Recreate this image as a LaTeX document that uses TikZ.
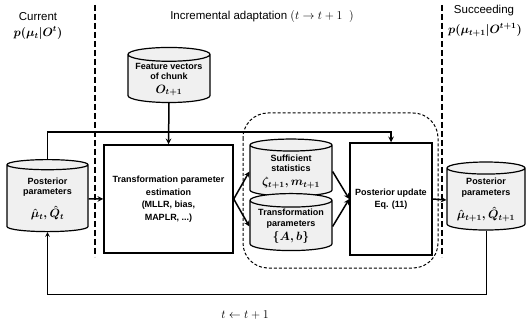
\documentclass[tikz,border=0pt]{standalone}
\usepackage{amsmath}
\usepackage{fontspec}
\setmainfont{Liberation Sans}
\usepackage{tikz}
\usetikzlibrary{arrows.meta, positioning, calc, shapes.geometric}

\begin{document}
\begin{tikzpicture}[x=1pt,y=-1pt]
  \useasboundingbox (0,0) rectangle (528,326);
  \tikzset{Drum/.style={cylinder,shape border rotate=90,aspect=0.2,draw,line width=1.2pt,
      fill=gray!12,align=center,inner sep=1pt,
      font=\bfseries\fontsize{9}{10.5}\selectfont},
    Box/.style={draw,line width=1.5pt,align=center,inner sep=2pt,
      font=\bfseries\fontsize{9}{12.5}\selectfont},
    Flow/.style={->,>=stealth,line width=1.5pt},
    Sep/.style={line width=1.6pt,dash pattern=on 6pt off 3pt},
    Title/.style={font=\fontsize{11.5}{13}\selectfont}}

  % headings
  \node[Title] (cur) at (38,17) {Current};
  \node (pcur) at (38,33) {\large$\boldsymbol{p(\mu_t|O^t)}$};
  \node[Title] (inc) at (262,17) {Incremental adaptation $(t \rightarrow t+1\;\;)$};
  \node[Title] (suc) at (484,11) {Succeeding};
  \node (psuc) at (485,30) {\large$\boldsymbol{p(\mu_{t+1}|O^{t+1})}$};

  \draw[Sep] (95,5) -- (95,257);
  \draw[Sep] (442,5) -- (442,257);

  % stores and blocks
  \node[Drum,minimum width=82,minimum height=55] (feat) at (169,79.5)
    {Feature vectors\\of chunk\\[3pt]\large$\boldsymbol{O_{t+1}}$};
  \node[Drum,minimum width=81,minimum height=72] (postL) at (47.5,199)
    {Posterior\\parameters\\[9pt]\large$\boldsymbol{\hat{\mu}_t,\hat{Q}_t}$};
  \node[Box,minimum width=129,minimum height=108] (trans) at (168.5,199)
    {Transformation parameter\\estimation\\(MLLR, bias,\\MAPLR, ...)};
  \node[Drum,minimum width=82,minimum height=57] (suff) at (291,171.5)
    {Sufficient\\statistics\\[3pt]\large$\boldsymbol{\zeta_{t+1},m_{t+1}}$};
  \node[Drum,minimum width=82,minimum height=57] (tpar) at (291,226.5)
    {Transformation\\parameters\\[3pt]\large$\boldsymbol{\{A,b\}}$};
  \node[Box,minimum width=82,minimum height=112] (upd) at (391,199)
    {Posterior update\\Eq. (11)};
  \node[Drum,minimum width=78,minimum height=68] (postR) at (486,200)
    {Posterior\\parameters\\[9pt]\large$\boldsymbol{\hat{\mu}_{t+1},\hat{Q}_{t+1}}$};

  \draw[line width=1pt,dash pattern=on 3pt off 2pt,rounded corners=25]
    (243,113) rectangle (438,268);

  % connections
  \draw[Flow] (feat.south) -- (trans.north);
  \draw[Flow] (postL.north) |- ($(upd.north)+(0,-10)$) -- (upd.north);
  \draw[Flow] (postL.east) -- (trans.west);
  \draw[Flow] (trans.east) -- (suff.west);
  \draw[Flow] (trans.east) -- (tpar.west);
  \draw[Flow] (suff.east) -- (upd.west);
  \draw[Flow] (tpar.east) -- (upd.west);
  \draw[Flow] (upd.east) -- (postR.west);
  \draw[->,>=stealth,line width=1pt] (postR.south) -- ++(0,64) -| (postL.south);

  \node (step) at (245,315) {\large$t \leftarrow t+1$};
\end{tikzpicture}
\end{document}
